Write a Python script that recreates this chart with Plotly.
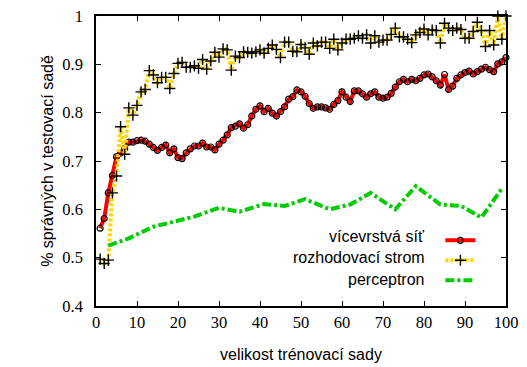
import plotly.graph_objects as go

# ---- data ----
train_size = list(range(1, 101))

mlp_acc = [
    0.561, 0.581, 0.634, 0.670, 0.709, 0.716, 0.726, 0.739, 0.739, 0.742,
    0.743, 0.741, 0.735, 0.728, 0.722, 0.728, 0.733, 0.717, 0.725, 0.707,
    0.705, 0.717, 0.725, 0.731, 0.731, 0.737, 0.729, 0.729, 0.723, 0.735,
    0.743, 0.754, 0.769, 0.772, 0.777, 0.768, 0.775, 0.793, 0.807, 0.814,
    0.802, 0.809, 0.799, 0.793, 0.802, 0.812, 0.828, 0.833, 0.847, 0.843,
    0.834, 0.819, 0.809, 0.812, 0.812, 0.810, 0.807, 0.817, 0.825, 0.843,
    0.832, 0.823, 0.845, 0.845, 0.839, 0.832, 0.839, 0.843, 0.832, 0.830,
    0.832, 0.840, 0.853, 0.864, 0.869, 0.864, 0.869, 0.866, 0.871, 0.878,
    0.880, 0.874, 0.866, 0.857, 0.879, 0.848, 0.855, 0.871, 0.878, 0.883,
    0.886, 0.880, 0.885, 0.890, 0.894, 0.889, 0.885, 0.901, 0.905, 0.914,
]

tree_acc = [
    0.497, 0.488, 0.495, 0.634, 0.669, 0.771, 0.714, 0.810, 0.795, 0.815,
    0.843, 0.848, 0.887, 0.878, 0.862, 0.873, 0.873, 0.850, 0.881, 0.902,
    0.904, 0.894, 0.894, 0.897, 0.892, 0.910, 0.890, 0.907, 0.925, 0.915,
    0.932, 0.930, 0.888, 0.917, 0.914, 0.926, 0.925, 0.923, 0.926, 0.930,
    0.923, 0.933, 0.940, 0.931, 0.914, 0.946, 0.946, 0.927, 0.926, 0.941,
    0.934, 0.921, 0.944, 0.938, 0.946, 0.946, 0.933, 0.952, 0.930, 0.944,
    0.952, 0.952, 0.954, 0.959, 0.954, 0.961, 0.944, 0.959, 0.946, 0.950,
    0.950, 0.962, 0.975, 0.957, 0.957, 0.952, 0.945, 0.961, 0.966, 0.973,
    0.961, 0.971, 0.970, 0.944, 0.985, 0.975, 0.970, 0.975, 0.972, 0.954,
    0.954, 0.968, 0.987, 0.970, 0.937, 0.970, 0.940, 1.000, 0.952, 1.000,
]

perc_x = [3, 8, 14, 19, 24, 30, 35, 41, 46, 51, 57, 62, 67, 73, 78, 84, 89, 94, 99]
perc_acc = [0.525, 0.540, 0.564, 0.575, 0.585, 0.603, 0.595, 0.611, 0.607, 0.621,
            0.600, 0.610, 0.634, 0.600, 0.648, 0.610, 0.607, 0.583, 0.643]

series_names = ["vícevrstvá síť", "rozhodovací strom", "perceptron"]
x_ticks = [0, 10, 20, 30, 40, 50, 60, 70, 80, 90, 100]
y_ticks = [0.4, 0.5, 0.6, 0.7, 0.8, 0.9, 1.0]
y_ticklabels = ["0.4", "0.5", "0.6", "0.7", "0.8", "0.9", "1"]
x_title = "velikost trénovací sady"
y_title = "% správných v testovací sadě"

SANS = "Liberation Sans"
SERIF = "Liberation Serif"

fig = go.Figure()

fig.add_trace(go.Scatter(
    x=train_size, y=mlp_acc, mode="lines+markers", name=" ",
    line=dict(color="#ff0000", width=4),
    marker=dict(symbol="circle-open", size=6, color="black", line=dict(width=1.2, color="black")),
    cliponaxis=False,
))
fig.add_trace(go.Scatter(
    x=train_size, y=tree_acc, mode="lines+markers", name=" ",
    line=dict(color="#ffd700", width=4, dash="3px,2px"),
    marker=dict(symbol="cross-thin", size=8, color="black", line=dict(width=1.4, color="black")),
    cliponaxis=False,
))
fig.add_trace(go.Scatter(
    x=perc_x, y=perc_acc, mode="lines", name=" ",
    line=dict(color="#00cc00", width=4, dash="9px,3px,3px,3px"),
))

# legend labels (gnuplot style: text to the left of the sample)
label_y = [0.238, 0.166, 0.093]
for name, yy in zip(series_names, label_y):
    fig.add_annotation(
        x=0.807, y=yy, xref="paper", yref="paper", text=name, showarrow=False,
        xanchor="right", yanchor="middle", font=dict(family=SANS, size=16, color="black"),
    )

axis_common = dict(
    showline=True, linecolor="black", linewidth=1.5, mirror="ticks",
    ticks="inside", ticklen=5, tickwidth=1, tickcolor="black",
    showgrid=False, zeroline=False, automargin=False, ticklabeloverflow="allow",
    tickfont=dict(family=SERIF, size=16.5, color="black"),
)

# the page body adds an 8px offset, so the figure is 8px smaller and margins compensate
fig.update_layout(
    width=519, height=359,
    margin=dict(l=88, r=21, t=8, b=61),
    paper_bgcolor="white", plot_bgcolor="white",
    xaxis=dict(range=[0, 100], tickvals=x_ticks, ticklabelstandoff=0,
               title=dict(text=x_title, font=dict(family=SANS, size=16, color="black"), standoff=18),
               **axis_common),
    yaxis=dict(range=[0.4, 1.0], tickvals=y_ticks, ticktext=y_ticklabels, ticklabelstandoff=8,
               title=dict(text=y_title, font=dict(family=SANS, size=16, color="black"), standoff=5),
               **axis_common),
    showlegend=True,
    legend=dict(x=0.84, y=0.278, xanchor="left", yanchor="top", bgcolor="rgba(0,0,0,0)",
                font=dict(family=SANS, size=13), tracegroupgap=0, itemwidth=30),
)

fig.write_html("out.html")
